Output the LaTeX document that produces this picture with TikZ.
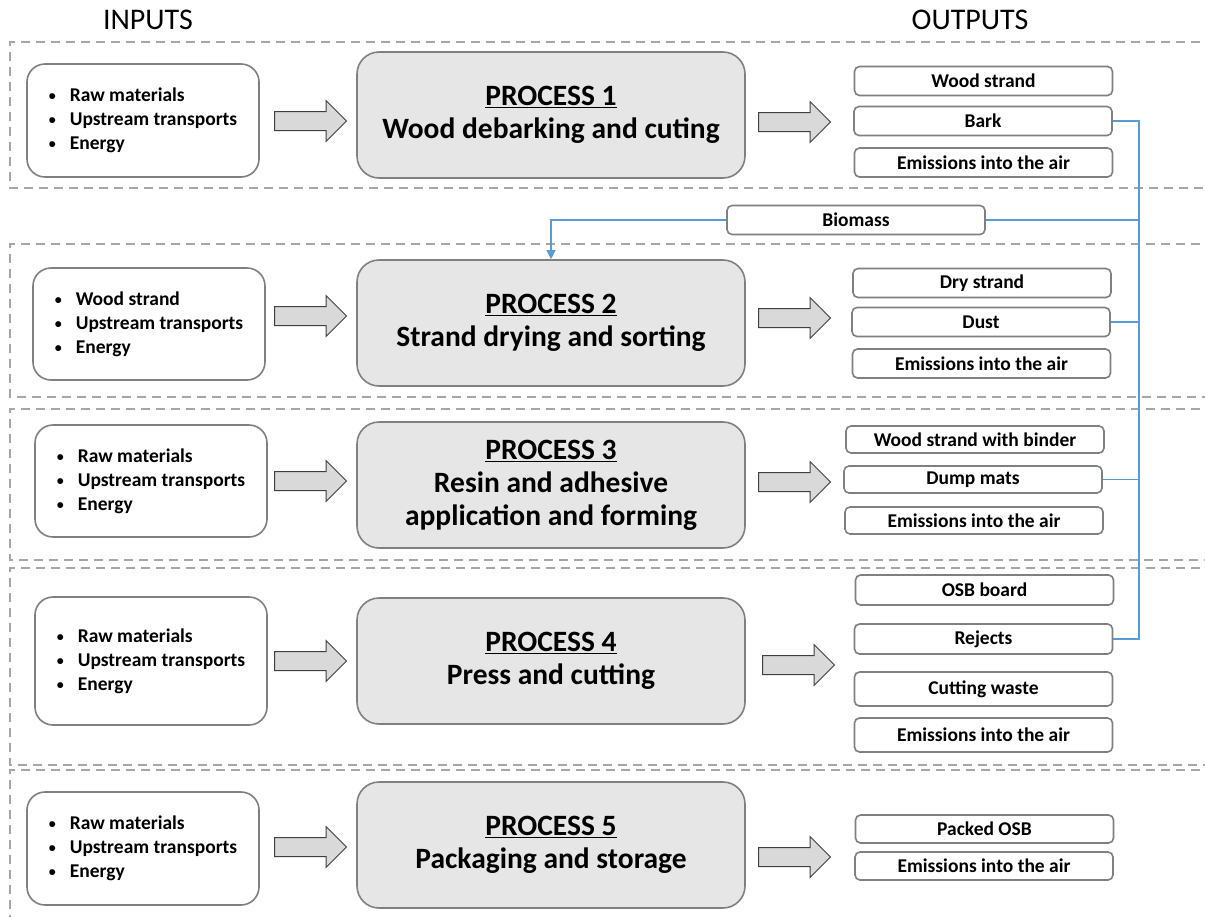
\documentclass[tikz,border=0pt]{standalone}
\usepackage{fontspec}
\setmainfont{Carlito}
\usepackage{tikz}
\usetikzlibrary{positioning,calc,shapes.arrows,arrows.meta}
\definecolor{framegray}{HTML}{A6A6A6}
\definecolor{boxgray}{HTML}{808080}
\definecolor{procfill}{HTML}{E7E6E6}
\definecolor{arrowfill}{HTML}{D9D9D9}
\definecolor{arrowline}{HTML}{404040}
\definecolor{linkblue}{HTML}{5B9BD5}
\newcommand{\itm}[1]{\makebox[21pt][l]{\raisebox{1pt}{\fontsize{14}{14}\selectfont\textbullet}}#1}
\tikzset{
	stage frame/.style={
		draw=framegray,
		line width=1.8pt,
		dash pattern=on 9pt off 6pt
	},
	input box/.style={
		rectangle,
		draw=boxgray,
		line width=1.6pt,
		rounded corners=18pt,
		fill=white,
		align=left,
		minimum width=232pt,
		font=\fontsize{19.5}{24}\selectfont\bfseries
	},
	process box/.style={
		rectangle,
		draw=boxgray,
		line width=1.6pt,
		rounded corners=22pt,
		fill=procfill,
		align=center,
		minimum width=388pt,
		minimum height=126pt,
		font=\fontsize{29.5}{33}\selectfont\bfseries
	},
	output box/.style={
		rectangle,
		draw=boxgray,
		line width=1.6pt,
		rounded corners=5pt,
		fill=white,
		inner sep=0pt,
		minimum width=258pt,
		minimum height=29pt,
		font=\fontsize{19.5}{20}\selectfont\bfseries
	},
	flow arrow/.style={
		single arrow,
		draw=arrowline,
		fill=arrowfill,
		line width=1pt,
		inner xsep=0pt,
		inner ysep=9pt,
		minimum height=72pt,
		minimum width=40pt,
		single arrow head extend=11pt,
		anchor=tail
	},
	link/.style={
		draw=linkblue,
		line width=1.1pt
	},
	heading/.style={
		font=\fontsize{30}{34}\selectfont
	}
}
\begin{document}
\begin{tikzpicture}[x=1pt,y=-1pt]
	\clip (0,0) rectangle (1205,916);
	% frames
	\draw[stage frame] (1215,42) -- (10,42) -- (10,188) -- (1215,188);
	\draw[stage frame] (1215,244) -- (10,244) -- (10,397) -- (1215,397);
	\draw[stage frame] (1215,409) -- (10,409) -- (10,560) -- (1215,560);
	\draw[stage frame] (1215,568) -- (10,568) -- (10,765) -- (1215,765);
	\draw[stage frame] (1215,770) -- (10,770) -- (10,930);
	% headings
	\node[heading] (inputs) at (148,20) {INPUTS};
	\node[heading] (outputs) at (970,20) {OUTPUTS};
	% inputs
	\node[input box,minimum height=113pt] (in1) at (143,120.5) {\itm{Raw materials}\\\itm{Upstream transports}\\\itm{Energy}};
	\node[input box,minimum height=112pt] (in2) at (149,324) {\itm{Wood strand}\\\itm{Upstream transports}\\\itm{Energy}};
	\node[input box,minimum height=112pt] (in3) at (151,481) {\itm{Raw materials}\\\itm{Upstream transports}\\\itm{Energy}};
	\node[input box,minimum height=128pt] (in4) at (151,661) {\itm{Raw materials}\\\itm{Upstream transports}\\\itm{Energy}};
	\node[input box,minimum height=113pt] (in5) at (143,848.5) {\itm{Raw materials}\\\itm{Upstream transports}\\\itm{Energy}};
	% processes
	\node[process box] (proc1) at (551,115) {\underline{PROCESS 1}\\Wood debarking and cuting};
	\node[process box] (proc2) at (551,323) {\underline{PROCESS 2}\\Strand drying and sorting};
	\node[process box] (proc3) at (551,485) {\underline{PROCESS 3}\\Resin and adhesive\\application and forming};
	\node[process box] (proc4) at (551,661) {\underline{PROCESS 4}\\Press and cutting};
	\node[process box] (proc5) at (551,845) {\underline{PROCESS 5}\\Packaging and storage};
	% block arrows
	\node[flow arrow] (ain1) at (274,121) {};
	\node[flow arrow] (ain2) at (274,316) {};
	\node[flow arrow] (ain3) at (274,481) {};
	\node[flow arrow] (ain4) at (274,661) {};
	\node[flow arrow] (ain5) at (274,847) {};
	\node[flow arrow] (aout1) at (758,122) {};
	\node[flow arrow] (aout2) at (758,318) {};
	\node[flow arrow] (aout3) at (758,482) {};
	\node[flow arrow] (aout4) at (762,665) {};
	\node[flow arrow] (aout5) at (758,857) {};
	% outputs
	\node[output box] (strand1) at (983.5,81) {Wood strand};
	\node[output box] (bark) at (983,121) {Bark};
	\node[output box] (emis1) at (983.5,162.5) {Emissions into the air};
	\node[output box] (biomass) at (856,220) {Biomass};
	\node[output box] (drystrand) at (982,283) {Dry strand};
	\node[output box] (dust) at (981,322) {Dust};
	\node[output box] (emis2) at (981.5,363.5) {Emissions into the air};
	\node[output box,minimum height=27pt] (binder) at (975,439.5) {Wood strand with binder};
	\node[output box,minimum height=27pt] (dumpmats) at (973,479.5) {Dump mats};
	\node[output box,minimum height=27pt] (emis3) at (974,520.5) {Emissions into the air};
	\node[output box,minimum height=30pt] (osb) at (984.5,590) {OSB board};
	\node[output box,minimum height=30pt] (rejects) at (983.5,639) {Rejects};
	\node[output box,minimum height=34pt] (waste) at (983.5,689) {Cutting waste};
	\node[output box,minimum height=34pt] (emis4) at (983.5,735) {Emissions into the air};
	\node[output box,minimum height=28pt] (packed) at (984.5,829) {Packed OSB};
	\node[output box,minimum height=28pt] (emis5) at (984,866) {Emissions into the air};
	% biomass loop
	\coordinate (bus) at (1139,121);
	\draw[link] (bark.east) -- (bus) -- (rejects.east -| bus) -- (rejects.east);
	\draw[link] (dust.east) -- (dust.east -| bus);
	\draw[link] (dumpmats.east) -- (dumpmats.east -| bus);
	\draw[link] (biomass.east) -- (biomass.east -| bus);
	\draw[link,-{Triangle[width=9pt,length=9pt]}] (biomass.west) -| (proc2.north);
\end{tikzpicture}
\end{document}
